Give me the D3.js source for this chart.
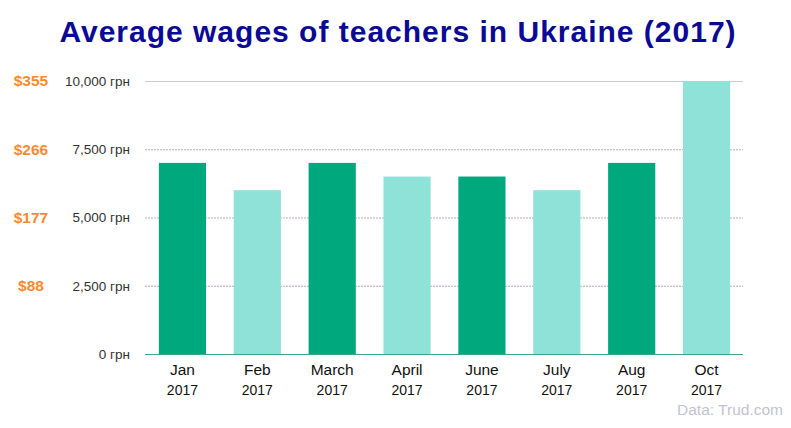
<!DOCTYPE html>
<html><head><meta charset="utf-8">
<script src="https://cdn.jsdelivr.net/npm/d3@7"></script>
<style>body{margin:0;background:#fff;} svg{display:block;font-family:Arial,"Liberation Sans",sans-serif;}</style>
</head><body>
<svg id="c" width="791" height="428"></svg>
<script>
const months = ["Jan","Feb","March","April","June","July","Aug","Oct"];
const years = ["2017","2017","2017","2017","2017","2017","2017","2017"];
const wages = [7000,6000,7000,6500,6500,6000,7000,10000];
const barColors = ["#00a87e","#8fe2d8","#00a87e","#8fe2d8","#00a87e","#8fe2d8","#00a87e","#8fe2d8"];
const yTicks = [0,2500,5000,7500,10000];
const usdLabels = ["$88","$177","$266","$355"];
const usdTicks = [2500,5000,7500,10000];

const svg = d3.select("#c");
const x = d3.scaleBand().domain(months).range([145,744]).paddingInner(0.37).paddingOuter(0.185);
const y = d3.scaleLinear().domain([0,10000]).range([354,81]);

svg.append("text").attr("x",398).attr("y",42).attr("text-anchor","middle")
  .attr("font-size",30).attr("font-weight","bold").attr("fill","#0a0a96")
  .attr("letter-spacing","1px")
  .text("Average wages of teachers in Ukraine (2017)");

// gridlines
yTicks.filter(d=>d>0).forEach(d=>{
  svg.append("line").attr("x1",145).attr("x2",743).attr("y1",y(d)+0.5).attr("y2",y(d)+0.5)
    .attr("stroke", d===10000 ? "#cccccc" : "#b9a9c2")
    .attr("stroke-dasharray", d===10000 ? null : "2,1");
});

// y axis labels
const yAxis = d3.axisLeft(y).tickValues(yTicks).tickSize(0).tickPadding(0)
  .tickFormat(d=>d3.format(",")(d)+" грн");
const ga = svg.append("g").attr("transform","translate(130,0)").call(yAxis);
ga.select(".domain").remove();
ga.selectAll("text").attr("font-size",13.5).attr("fill","#333").attr("font-family","Arial,'Liberation Sans',sans-serif");

// USD labels
svg.selectAll(".usd").data(usdTicks).enter().append("text")
  .attr("x",31).attr("y",d=>y(d)).attr("dy","0.35em").attr("text-anchor","middle")
  .attr("font-size",15.5).attr("font-weight","bold").attr("fill","#ff8a2e")
  .text((d,i)=>usdLabels[i]);

// bars
svg.selectAll(".bar").data(wages).enter().append("rect")
  .attr("x",(d,i)=>x(months[i])).attr("width",x.bandwidth())
  .attr("y",d=>y(d)).attr("height",d=>y(0)-y(d))
  .attr("fill",(d,i)=>barColors[i]);

// baseline
svg.append("line").attr("x1",145).attr("x2",743).attr("y1",y(0)+0.5).attr("y2",y(0)+0.5)
  .attr("stroke","#3aa882");

// x labels
months.forEach((m,i)=>{
  const cx = x(m)+x.bandwidth()/2;
  svg.append("text").attr("x",cx).attr("y",375).attr("text-anchor","middle")
    .attr("font-size",15.5).attr("fill","#111").text(m);
  svg.append("text").attr("x",cx).attr("y",395).attr("text-anchor","middle")
    .attr("font-size",14).attr("fill","#111").text(years[i]);
});

svg.append("text").attr("x",783).attr("y",415).attr("text-anchor","end")
  .attr("font-size",15.5).attr("fill","#c3c3d3").text("Data: Trud.com");
</script>
</body></html>
